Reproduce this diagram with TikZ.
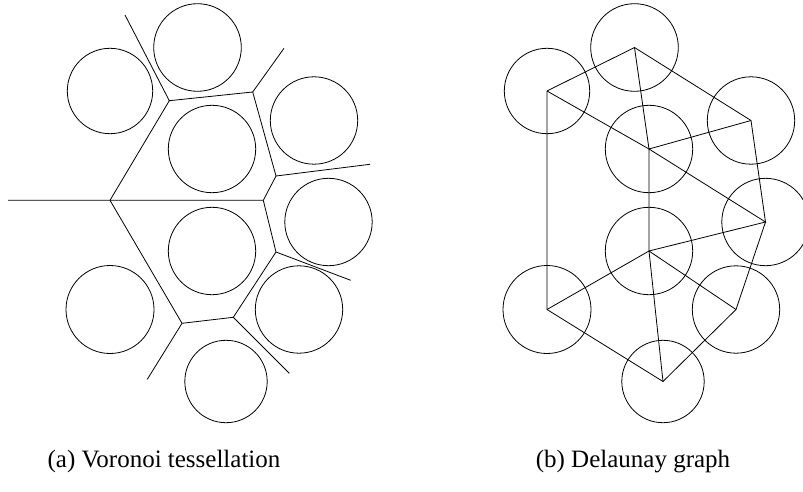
\documentclass[tikz,border=0pt]{standalone}
\usepackage{fontspec}
\setmainfont{Liberation Serif}
\begin{document}
\begin{tikzpicture}[x=1pt,y=-1pt,line width=0.8pt,
  link/.style={draw,line width=0.8pt},
  disc/.style={draw,line width=0.8pt},
  caption/.style={font=\fontsize{25}{30}\selectfont,anchor=base}]
\useasboundingbox (0,0) rectangle (803,492);

% sites: name / x / y / radius; panel (a) at left, panel (b) shifted right
\foreach \n/\px/\py/\r in {A/197.5/47.5/43.8, B/110/91/42.7, C/314/120.5/43.7,
    D/212/149/43.7, E/328.5/222/43.7, F/212/251/43.7, G/110/309.5/44,
    H/299/309.5/43.7, I/226/381.5/41.2}{
  \coordinate (a\n) at (\px,\py);
  \coordinate (b\n) at (\px+437,\py);
  \path[disc] (a\n) circle[radius=\r pt];
  \path[disc] (b\n) circle[radius=\r pt];
}

% Voronoi vertices
\coordinate (v1) at (169.3,100.7);
\coordinate (v2) at (252.7,92);
\coordinate (v3) at (276,176);
\coordinate (v4) at (263.3,200.3);
\coordinate (v5) at (110,200.3);
\coordinate (v6) at (276,252);
\coordinate (v7) at (233.3,317.3);
\coordinate (v8) at (182,323.3);
% free ends of the unbounded cell edges
\coordinate (r1) at (125,15);
\coordinate (r2) at (284,48.3);
\coordinate (r3) at (370,164.3);
\coordinate (r5) at (8,200.3);
\coordinate (r6) at (350.7,280.3);
\coordinate (r7) at (289.3,373.3);
\coordinate (r8) at (147.3,379.3);

% Voronoi edges
\path[link] (r1) -- (v1) -- (v2) -- (r2);
\path[link] (v2) -- (v3) -- (r3);
\path[link] (v3) -- (v4) -- (v5) -- (r5);
\path[link] (v5) -- (v1);
\path[link] (v4) -- (v6) -- (r6);
\path[link] (v6) -- (v7) -- (r7);
\path[link] (v7) -- (v8) -- (r8);
\path[link] (v8) -- (v5);

% Delaunay edges
\path[link] (bB) -- (bA) -- (bC) -- (bE) -- (bH) -- (bI) -- (bG) -- cycle;
\path[link] (bA) -- (bD) -- (bC);
\path[link] (bB) -- (bD) -- (bE) -- (bF) -- (bD);
\path[link] (bF) -- (bH);
\path[link] (bF) -- (bI);
\path[link] (bF) -- (bG);

% captions
\node[caption] (capa) at (164,467) {(a) Voronoi tessellation};
\node[caption] (capb) at (633,467) {(b) Delaunay graph};
\end{tikzpicture}
\end{document}
